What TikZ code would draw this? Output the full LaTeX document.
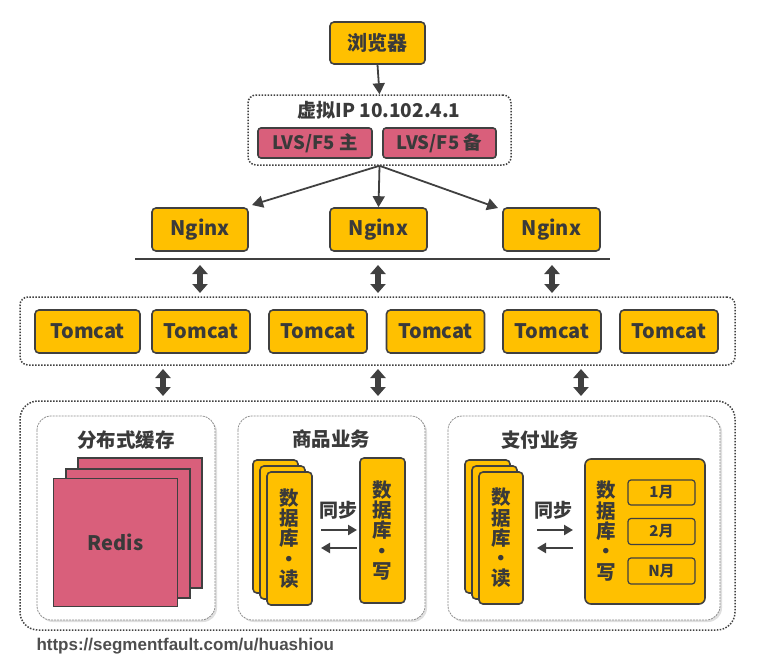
\documentclass[tikz,border=0pt]{standalone}
\usepackage{fontspec}
\setmainfont{Noto Sans CJK SC}
\newfontfamily\urlfont{Liberation Sans}
\usetikzlibrary{arrows.meta,shadows}
\definecolor{gold}{HTML}{FFC000}
\definecolor{edge}{HTML}{404040}
\definecolor{rose}{HTML}{D95F7B}
\definecolor{txt}{HTML}{3A3A3A}
\tikzset{
  gbox/.style={draw=edge, fill=gold, line width=1.6pt, rounded corners=4pt, text=txt, font=\bfseries\fontsize{20}{22}\selectfont, inner sep=0pt},
  pbox/.style={draw=edge, fill=rose, line width=1.6pt, rounded corners=3pt, text=txt, font=\bfseries\fontsize{18.5}{20}\selectfont, inner sep=0pt},
  mbox/.style={draw=edge, fill=gold, line width=1.2pt, rounded corners=3pt, text=txt, font=\bfseries\fontsize{15}{17}\selectfont, inner sep=0pt},
  dotbox/.style={draw=edge, line width=1.5pt, dash pattern=on 1.5pt off 1.5pt, rounded corners=8pt},
  panel/.style={draw=gray!90, line width=0.8pt, dash pattern=on 2pt off 1pt, rounded corners=14pt, fill=white, drop shadow={opacity=0.25, shadow xshift=2pt, shadow yshift=-2pt}},
  ttl/.style={text=txt, font=\bfseries\fontsize{19.5}{22}\selectfont},
  arr/.style={draw=edge, line width=1.8pt, -{Triangle[width=12pt,length=11pt]}},
  dblarr/.style={draw=edge, line width=5.5pt, {Triangle[width=15pt,length=9pt]}-{Triangle[width=15pt,length=9pt]}},
  syncarr/.style={draw=edge, line width=2.4pt, -{Triangle[width=10pt,length=9pt]}},
  vtext/.style={text=txt, font=\bfseries\fontsize{19.5}{20.3}\selectfont, align=center},
  rbox/.style={draw=edge, fill=rose, line width=1.6pt},
  stxt/.style={text=txt, font=\bfseries\fontsize{19}{21}\selectfont},
}
\begin{document}
\begin{tikzpicture}[x=1pt,y=-1pt]
\useasboundingbox (0,0) rectangle (767,664);

% browser
\node[gbox, minimum width=95pt, minimum height=42pt] (br) at (377.5,43) {浏览器};
% virtual IP
\node[dotbox, minimum width=263pt, minimum height=70pt] (vip) at (379.5,130) {};
\node[text=txt, font=\bfseries\fontsize{19}{21}\selectfont] (viptxt) at (379,110) {虚拟IP 10.102.4.1};
\node[pbox, minimum width=114pt, minimum height=30pt] (lvs1) at (315,143) {LVS/F5 主};
\node[pbox, minimum width=113pt, minimum height=30pt] (lvs2) at (439.5,143) {LVS/F5 备};
\draw[arr] (br.south) -- (vip.north);

% nginx
\node[gbox, minimum width=96pt, minimum height=43pt] (ng1) at (200,229.5) {Nginx};
\node[gbox, minimum width=97pt, minimum height=43pt] (ng2) at (378.5,229.5) {Nginx};
\node[gbox, minimum width=97pt, minimum height=43pt] (ng3) at (551.5,229.5) {Nginx};
\coordinate (t1) at (252,205);
\coordinate (t3) at (498,208);
\draw[arr] (vip.south) -- (t1);
\draw[arr] (vip.south) -- (ng2.north);
\draw[arr] (vip.south) -- (t3);

% bus line
\coordinate (busL) at (135,259);
\coordinate (busR) at (610,259);
\draw[edge, line width=1.8pt] (busL) -- (busR);

% tomcat layer
\node[dotbox, minimum width=715pt, minimum height=68pt] (tc) at (377.5,331) {};
\node[gbox, minimum width=105pt, minimum height=43pt] (tc1) at (87.5,331.5) {Tomcat};
\node[gbox, minimum width=98pt, minimum height=43pt] (tc2) at (201,331.5) {Tomcat};
\node[gbox, minimum width=98pt, minimum height=43pt] (tc3) at (318,331.5) {Tomcat};
\node[gbox, minimum width=98pt, minimum height=43pt] (tc4) at (435.5,331.5) {Tomcat};
\node[gbox, minimum width=98pt, minimum height=43pt] (tc5) at (552,331.5) {Tomcat};
\node[gbox, minimum width=98pt, minimum height=43pt] (tc6) at (669,331.5) {Tomcat};

\coordinate (a1t) at (200,265); \coordinate (a1b) at (200,293);
\coordinate (a2t) at (378,265); \coordinate (a2b) at (378,293);
\coordinate (a3t) at (552,265); \coordinate (a3b) at (552,293);
\draw[dblarr] (a1t) -- (a1b);
\draw[dblarr] (a2t) -- (a2b);
\draw[dblarr] (a3t) -- (a3b);

\coordinate (b1t) at (163,369); \coordinate (b1b) at (163,396);
\coordinate (b2t) at (378,369); \coordinate (b2b) at (378,396);
\coordinate (b3t) at (581,369); \coordinate (b3b) at (581,396);
\draw[dblarr] (b1t) -- (b1b);
\draw[dblarr] (b2t) -- (b2b);
\draw[dblarr] (b3t) -- (b3b);

% bottom layer
\draw[dotbox, rounded corners=18pt] (20,401) rectangle (735,630);
\draw[panel] (37,416) rectangle (215,620);
\draw[panel] (238,416) rectangle (425,620);
\draw[panel] (448,416) rectangle (720,620);
\node[ttl] (t-cache) at (126,440) {分布式缓存};
\node[ttl] (t-goods) at (331,439) {商品业务};
\node[ttl] (t-pay) at (540,440) {支付业务};

% redis stack
\draw[rbox] (78,458) rectangle (202,588);
\draw[rbox] (66,469) rectangle (190,598);
\node[rbox, minimum width=124pt, minimum height=128pt, text=txt, font=\bfseries\fontsize{20}{22}\selectfont] (redis) at (115.5,542.5) {Redis};

% goods read stack
\draw[gbox] (253,460) rectangle (298,593);
\draw[gbox] (260,466) rectangle (305,599);
\node[gbox, minimum width=45pt, minimum height=133pt] (gr) at (289.5,538.5) {};
\node[vtext] at (gr) {数\\据\\库\\·\\读};
\node[gbox, minimum width=45pt, minimum height=145pt] (gw) at (382.5,530.5) {};
\node[vtext] at (gw) {数\\据\\库\\·\\写};
\node[stxt] (gs) at (338,510) {同步};
\coordinate (gs1a) at (321,530); \coordinate (gs1b) at (357,530);
\coordinate (gs2a) at (357,548); \coordinate (gs2b) at (321,548);
\draw[syncarr] (gs1a) -- (gs1b);
\draw[syncarr] (gs2a) -- (gs2b);

% pay read stack
\draw[gbox] (465,460) rectangle (510,593);
\draw[gbox] (472,466) rectangle (517,599);
\node[gbox, minimum width=44pt, minimum height=132pt] (pr) at (501,538) {};
\node[vtext] at (pr) {数\\据\\库\\·\\读};
\node[gbox, rounded corners=6pt, minimum width=120pt, minimum height=145pt] (pw) at (645,531.5) {};
\node[vtext] at (606,531) {数\\据\\库\\·\\写};
\node[mbox, minimum width=67pt, minimum height=25pt] (m1) at (661.5,492.5) {1月};
\node[mbox, minimum width=67pt, minimum height=26pt] (m2) at (661.5,531.5) {2月};
\node[mbox, minimum width=67pt, minimum height=26pt] (m3) at (661.5,571) {N月};
\node[stxt] (ps) at (553,510) {同步};
\coordinate (ps1a) at (537,530); \coordinate (ps1b) at (573,530);
\coordinate (ps2a) at (573,548); \coordinate (ps2b) at (537,548);
\draw[syncarr] (ps1a) -- (ps1b);
\draw[syncarr] (ps2a) -- (ps2b);

% url
\node[anchor=west, text=txt!90, font=\urlfont\bfseries\fontsize{17}{19}\selectfont] (url) at (33,646) {https://segmentfault.com/u/huashiou};
\end{tikzpicture}
\end{document}
